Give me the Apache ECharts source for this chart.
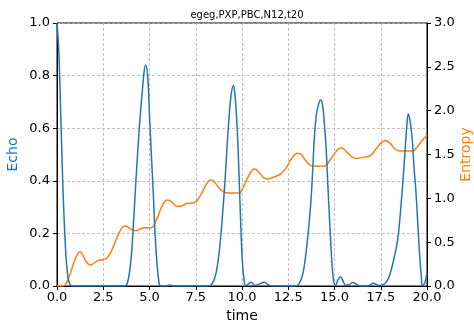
<!DOCTYPE html>
<html>
<head>
<meta charset="utf-8">
<script src="https://cdn.jsdelivr.net/npm/echarts@6/dist/echarts.min.js"></script>
<style>
  html, body { margin: 0; padding: 0; background: #fff; }
  #chart { width: 474px; height: 324px; }
</style>
</head>
<body>
<div id="chart"></div>
<script>
// Echo (left axis) as [time, value] pairs
var echoPoints = [
  [0,1.0],[0.1,0.89],[0.2,0.66],[0.3,0.42],[0.4,0.23],[0.5,0.1],[0.6,0.03],[0.7,0.006],[0.8,0],
  [3.6,0],[3.8,0.01],[4.0,0.1],[4.1,0.2],[4.2,0.32],[4.3,0.44],[4.4,0.55],[4.5,0.65],[4.6,0.73],[4.7,0.81],[4.79,0.84],
  [4.9,0.8],[5.0,0.65],[5.1,0.5],[5.2,0.36],[5.3,0.2],[5.4,0.09],[5.5,0.02],[5.6,0],
  [5.9,0],[6.1,0.004],[6.3,0],
  [8.2,0],[8.4,0.01],[8.6,0.05],[8.8,0.15],[9.0,0.32],[9.1,0.42],[9.2,0.54],[9.3,0.64],[9.4,0.72],[9.53,0.762],
  [9.6,0.74],[9.7,0.65],[9.8,0.5],[9.9,0.3],[10.0,0.12],[10.1,0.03],[10.2,0],[10.35,0.008],[10.5,0.014],[10.7,0.002],
  [10.95,0.008],[11.2,0.014],[11.45,0.003],[11.7,0],
  [12.9,0],[13.1,0.01],[13.3,0.05],[13.5,0.15],[13.7,0.3],[13.8,0.41],[13.9,0.55],[14.0,0.64],[14.1,0.68],[14.25,0.707],
  [14.35,0.69],[14.45,0.62],[14.55,0.52],[14.65,0.37],[14.75,0.23],[14.85,0.1],[14.95,0.02],[15.05,0.003],
  [15.2,0.025],[15.32,0.035],[15.45,0.02],[15.6,0.003],[15.8,0.006],[16.0,0.013],[16.2,0.006],[16.4,0],
  [16.8,0],[17.1,0.01],[17.4,0.002],[17.6,0.004],[17.8,0.015],[18.0,0.045],[18.2,0.1],[18.4,0.17],[18.5,0.23],
  [18.6,0.31],[18.7,0.4],[18.8,0.5],[18.9,0.6],[18.99,0.655],[19.1,0.62],[19.2,0.56],[19.3,0.45],[19.4,0.36],
  [19.5,0.24],[19.6,0.12],[19.7,0.03],[19.75,0],[19.85,0.008],[19.93,0.025],[20.0,0.048]
];

// Entropy (right axis) as [time, value] pairs
var entropyPoints = [
  [0,0],[0.3,0.0],[0.5,0.03],[0.7,0.13],[0.9,0.26],[1.1,0.36],[1.25,0.39],[1.4,0.35],[1.6,0.27],[1.8,0.24],
  [2.0,0.26],[2.2,0.29],[2.5,0.30],[2.7,0.32],[2.9,0.38],[3.1,0.48],[3.3,0.58],[3.5,0.66],[3.65,0.685],[3.85,0.67],
  [4.05,0.64],[4.25,0.63],[4.5,0.65],[4.75,0.665],[5.1,0.665],[5.3,0.72],[5.5,0.82],[5.7,0.92],[5.95,0.98],[6.2,0.96],
  [6.45,0.91],[6.7,0.91],[7.0,0.94],[7.4,0.95],[7.6,0.98],[7.85,1.07],[8.1,1.17],[8.3,1.21],[8.5,1.19],[8.75,1.12],
  [9.0,1.075],[9.3,1.06],[9.85,1.06],[10.05,1.12],[10.3,1.23],[10.5,1.31],[10.7,1.335],[10.9,1.3],[11.15,1.24],
  [11.4,1.22],[11.7,1.24],[12.1,1.28],[12.4,1.35],[12.7,1.46],[13.0,1.515],[13.2,1.5],[13.45,1.43],[13.75,1.37],
  [14.0,1.365],[14.5,1.37],[14.7,1.42],[15.0,1.51],[15.2,1.56],[15.4,1.575],[15.65,1.53],[15.95,1.47],[16.2,1.455],
  [16.6,1.47],[16.95,1.49],[17.2,1.55],[17.5,1.63],[17.75,1.66],[18.0,1.63],[18.3,1.56],[18.55,1.54],[19.2,1.54],
  [19.45,1.58],[19.7,1.65],[20.0,1.72]
];

var titleText = 'egeg,PXP,PBC,N12,t20';
var xName = 'time';
var leftName = 'Echo';
var rightName = 'Entropy';

var blue = '#1f77b4';
var orange = '#ff7f0e';
var fontFamily = 'DejaVu Sans';
var gridLine = { show: true, lineStyle: { color: '#b0b0b0', width: 0.8, type: [3, 2] } };
var fmt1 = function (v) { return v.toFixed(1); };

var chart = echarts.init(document.getElementById('chart'), null, { renderer: 'canvas' });
chart.setOption({
  animation: false,
  backgroundColor: '#ffffff',
  textStyle: { fontFamily: fontFamily },
  title: {
    text: titleText,
    left: 242, top: 5, textAlign: 'center',
    textStyle: { fontFamily: fontFamily, fontSize: 10, fontWeight: 'normal', color: '#000' }
  },
  grid: {
    left: 57, right: 47, top: 23, bottom: 38,
    containLabel: false, outerBoundsMode: 'none',
    show: true, borderColor: '#000', borderWidth: 1, backgroundColor: 'transparent'
  },
  xAxis: {
    type: 'value', min: 0, max: 20, interval: 2.5,
    name: xName, nameLocation: 'middle', nameGap: 22,
    nameTextStyle: { fontFamily: fontFamily, fontSize: 14, color: '#000' },
    axisLine: { show: true, onZero: false, lineStyle: { color: '#000', width: 1 } },
    axisTick: { show: true, length: 4, lineStyle: { color: '#000' } },
    axisLabel: { formatter: fmt1, fontSize: 13, color: '#000', margin: 5, fontFamily: fontFamily },
    splitLine: gridLine
  },
  yAxis: [
    {
      type: 'value', min: 0, max: 1, interval: 0.2, position: 'left',
      name: leftName, nameLocation: 'middle', nameGap: 37, nameRotate: 90, nameMoveOverlap: false,
      nameTextStyle: { fontFamily: fontFamily, fontSize: 14, color: blue },
      axisLine: { show: true, lineStyle: { color: '#000', width: 1 } },
      axisTick: { show: true, length: 4, lineStyle: { color: '#000' } },
      axisLabel: { formatter: fmt1, fontSize: 13, color: '#000', margin: 7, fontFamily: fontFamily },
      splitLine: gridLine
    },
    {
      type: 'value', min: 0, max: 3, interval: 0.5, position: 'right',
      name: rightName, nameLocation: 'middle', nameGap: 32, nameRotate: 90, nameMoveOverlap: false,
      nameTextStyle: { fontFamily: fontFamily, fontSize: 14, color: orange },
      axisLine: { show: true, lineStyle: { color: '#000', width: 1 } },
      axisTick: { show: true, length: 4, lineStyle: { color: '#000' } },
      axisLabel: { formatter: fmt1, fontSize: 13, color: '#000', margin: 7, fontFamily: fontFamily },
      splitLine: { show: false }
    }
  ],
  series: [
    {
      type: 'line', yAxisIndex: 1, data: entropyPoints, smooth: 0.4, showSymbol: false,
      lineStyle: { color: orange, width: 1.5 }, itemStyle: { color: orange }, z: 2
    },
    {
      type: 'line', yAxisIndex: 0, data: echoPoints, smooth: 0.4, showSymbol: false,
      lineStyle: { color: blue, width: 1.5 }, itemStyle: { color: blue }, z: 3
    }
  ]
});
</script>
</body>
</html>
